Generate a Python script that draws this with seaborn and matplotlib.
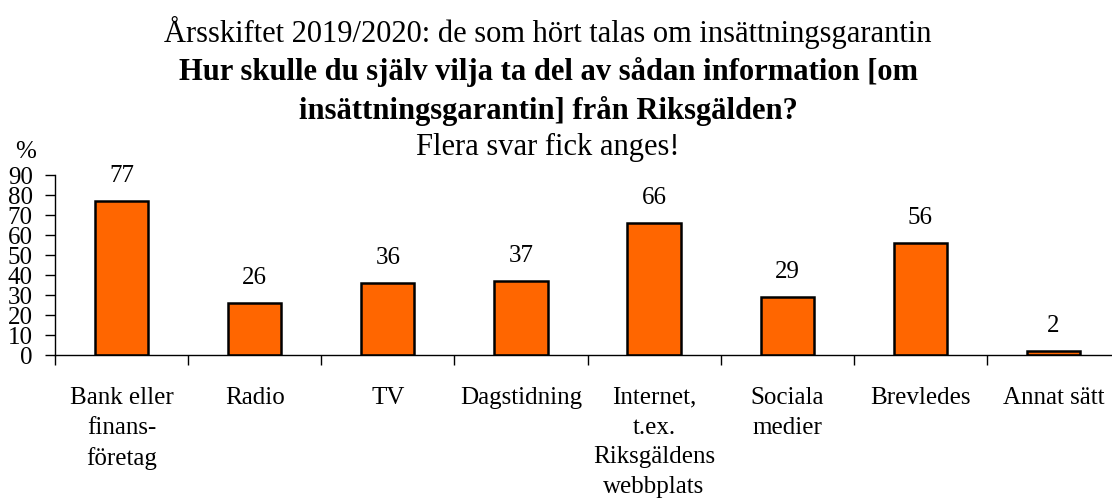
import pandas as pd
import matplotlib.pyplot as plt
import seaborn as sns
from matplotlib.ticker import FixedLocator

# Data
categories = ['Bank eller\nfinans-\nföretag', 'Radio', 'TV', 'Dagstidning',
              'Internet,\nt.ex.\nRiksgäldens\nwebbplats', 'Sociala\nmedier',
              'Brevledes', 'Annat sätt']
values = [77, 26, 36, 37, 66, 29, 56, 2]

df = pd.DataFrame({'Kanal': categories, 'Procent': values})

sns.set_style('white')
plt.rcParams['font.family'] = ['Liberation Serif', 'DejaVu Serif']
plt.rcParams['font.size'] = 18
plt.rcParams['text.color'] = 'black'
plt.rcParams['xtick.color'] = 'black'
plt.rcParams['ytick.color'] = 'black'
plt.rcParams['xtick.labelcolor'] = 'black'
plt.rcParams['ytick.labelcolor'] = 'black'

fig = plt.figure(figsize=(11.12, 5), dpi=100)
ax = fig.add_axes([55 / 1112, 145 / 500, 1065 / 1112, 180 / 500])

sns.barplot(data=df, x='Kanal', y='Procent', color='#FF6600', saturation=1,
            edgecolor='black', linewidth=1.8, width=0.4, ax=ax)

# value labels above bars
for i, v in enumerate(values):
    ax.annotate(str(v), (i, v), xytext=(0, 14), textcoords='offset points',
                ha='center', va='baseline', fontsize=18, color='black')

ax.set_xlim(-0.5, 7.5)
ax.set_ylim(0, 90)
ax.set_yticks(range(0, 91, 10))
ax.set_xlabel('')
ax.set_ylabel('')

for side in ['top', 'right']:
    ax.spines[side].set_visible(False)
for side in ['left', 'bottom']:
    ax.spines[side].set_color('black')
    ax.spines[side].set_linewidth(1.0)

ax.tick_params(axis='y', which='major', direction='out', length=7, width=1,
               color='black', labelsize=18, pad=9, left=True)
ax.tick_params(axis='x', which='major', length=0, labelsize=18, pad=23)
ax.xaxis.set_minor_locator(FixedLocator([i - 0.5 for i in range(9)]))
ax.tick_params(axis='x', which='minor', direction='out', length=7, width=1,
               color='black', bottom=True)
for lbl in ax.get_xticklabels():
    lbl.set_linespacing(1.45)
    lbl.set_verticalalignment('top')

ax.text(-0.028, 1.128, '%', transform=ax.transAxes, fontsize=18,
        ha='center', va='center')

# title block
fig.text(0.493, 0.936, 'Årsskiftet 2019/2020: de som hört talas om insättningsgarantin',
         ha='center', va='center', fontsize=22)
fig.text(0.493, 0.856, 'Hur skulle du själv vilja ta del av sådan information [om',
         ha='center', va='center', fontsize=22, fontweight='bold')
fig.text(0.493, 0.779, 'insättningsgarantin] från Riksgälden?',
         ha='center', va='center', fontsize=22, fontweight='bold')
fig.text(0.493, 0.705, 'Flera svar fick anges!',
         ha='center', va='center', fontsize=22)

fig.savefig('out.png', dpi=100)
